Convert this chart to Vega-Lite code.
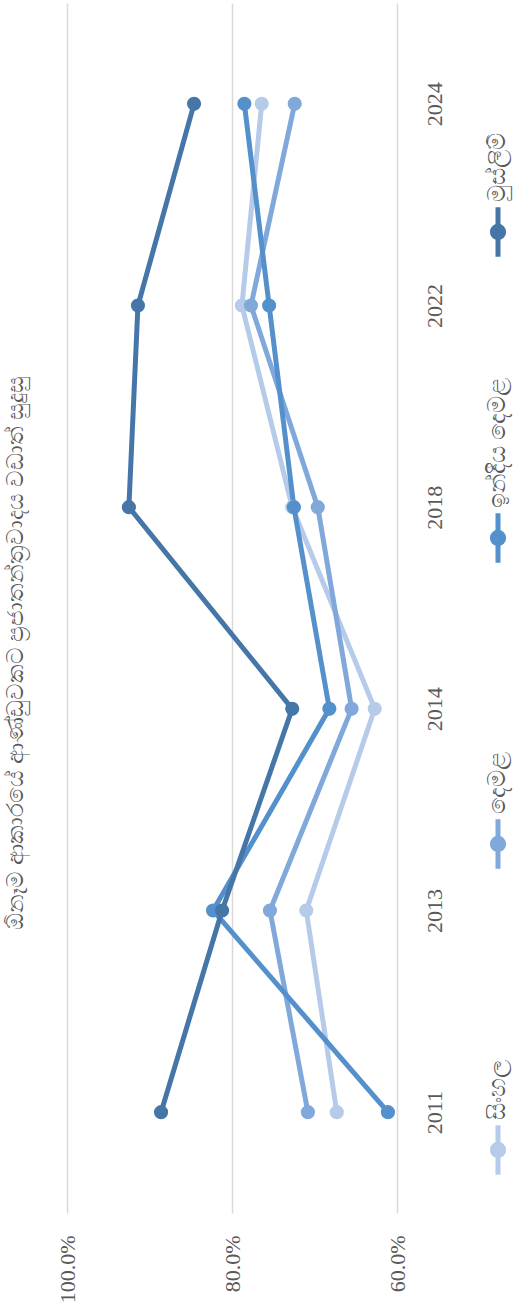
{
  "$schema": "https://vega.github.io/schema/vega-lite/v6.json",
  "autosize": {"type": "pad"},
  "padding": {"left": 4, "top": 3, "right": 0, "bottom": 0},
  "background": "white",
  "config": {"view": {"stroke": null}, "font": "Times New Roman, Liberation Serif, DejaVu Serif, serif"},
  "title": {
    "text": "ඕනෑම ආකාරයේ ආණ්ඩුවකට ප්‍රජාතන්ත්‍රවාදය වඩාත් සුදුසු",
    "orient": "left",
    "anchor": "middle",
    "offset": 28,
    "font": "Times New Roman, Liberation Serif, serif",
    "fontSize": 23,
    "fontWeight": "normal",
    "color": "#595959"
  },
  "spacing": 36,
  "hconcat": [
    {
      "width": 330,
      "height": 1210,
      "data": {
        "values": [
          {"year": "2011", "group": "සිංහල", "value": 0.673},
          {"year": "2013", "group": "සිංහල", "value": 0.710},
          {"year": "2014", "group": "සිංහල", "value": 0.627},
          {"year": "2018", "group": "සිංහල", "value": 0.727},
          {"year": "2022", "group": "සිංහල", "value": 0.788},
          {"year": "2024", "group": "සිංහල", "value": 0.764},
          {"year": "2011", "group": "දෙමළ", "value": 0.708},
          {"year": "2013", "group": "දෙමළ", "value": 0.754},
          {"year": "2014", "group": "දෙමළ", "value": 0.655},
          {"year": "2018", "group": "දෙමළ", "value": 0.696},
          {"year": "2022", "group": "දෙමළ", "value": 0.777},
          {"year": "2024", "group": "දෙමළ", "value": 0.724},
          {"year": "2011", "group": "ඉන්දීය දෙමළ", "value": 0.611},
          {"year": "2013", "group": "ඉන්දීය දෙමළ", "value": 0.823},
          {"year": "2014", "group": "ඉන්දීය දෙමළ", "value": 0.682},
          {"year": "2018", "group": "ඉන්දීය දෙමළ", "value": 0.725},
          {"year": "2022", "group": "ඉන්දීය දෙමළ", "value": 0.755},
          {"year": "2024", "group": "ඉන්දීය දෙමළ", "value": 0.785},
          {"year": "2011", "group": "මුස්ලිම්", "value": 0.886},
          {"year": "2013", "group": "මුස්ලිම්", "value": 0.812},
          {"year": "2014", "group": "මුස්ලිම්", "value": 0.727},
          {"year": "2018", "group": "මුස්ලිම්", "value": 0.925},
          {"year": "2022", "group": "මුස්ලිම්", "value": 0.914},
          {"year": "2024", "group": "මුස්ලිම්", "value": 0.846}
        ]
      },
      "encoding": {
        "y": {
          "field": "year",
          "type": "ordinal",
          "sort": "descending",
          "scale": {"type": "point", "padding": 0.5},
          "axis": {
            "orient": "right",
            "title": null,
            "labelAngle": -90,
            "labelAlign": "center",
            "labelBaseline": "top",
            "labelPadding": 27,
            "ticks": false,
            "domain": false,
            "grid": false,
            "labelFont": "Times New Roman, Liberation Serif, serif",
            "labelFontSize": 22,
            "labelColor": "#595959"
          }
        },
        "x": {
          "field": "value",
          "type": "quantitative",
          "scale": {"domain": [0.6, 1.0], "reverse": true, "nice": false, "zero": false},
          "axis": {
            "orient": "bottom",
            "title": null,
            "values": [0.6, 0.8, 1.0],
            "format": ".1%",
            "labelAngle": -90,
            "labelAlign": "right",
            "labelBaseline": "middle",
            "labelPadding": 22,
            "ticks": false,
            "domain": false,
            "grid": true,
            "gridColor": "#d9d9d9",
            "gridWidth": 1.5,
            "labelFont": "Times New Roman, Liberation Serif, serif",
            "labelFontSize": 22,
            "labelColor": "#595959"
          }
        },
        "color": {
          "field": "group",
          "type": "nominal",
          "scale": {
            "domain": ["මුස්ලිම්", "ඉන්දීය දෙමළ", "දෙමළ", "සිංහල"],
            "range": ["#4676a8", "#5490cb", "#80a8da", "#b6cbe9"]
          },
          "legend": null
        }
      },
      "layer": [
        {
          "mark": {"type": "line", "strokeWidth": 5},
          "encoding": {"order": {"field": "year"}}
        },
        {
          "mark": {"type": "circle", "size": 200, "opacity": 1}
        }
      ]
    },
    {
      "width": 20,
      "height": 1210,
      "data": {
        "values": [
          {"group": "මුස්ලිම්"},
          {"group": "ඉන්දීය දෙමළ"},
          {"group": "දෙමළ"},
          {"group": "සිංහල"}
        ]
      },
      "encoding": {
        "y": {
          "field": "group",
          "type": "nominal",
          "sort": null,
          "scale": {
            "type": "point",
            "domain": ["මුස්ලිම්", "ඉන්දීය දෙමළ", "දෙමළ", "සිංහල"],
            "padding": 0.477,
            "align": 0.784
          },
          "axis": null
        }
      },
      "layer": [
        {
          "mark": {
            "type": "point",
            "shape": "M0,-3.3L0,3.3M-0.75,0A0.75,0.75 0 1,0 0.75,0A0.75,0.75 0 1,0 -0.75,0Z",
            "size": 225,
            "strokeWidth": 5,
            "filled": true,
            "opacity": 1
          },
          "encoding": {
            "color": {
              "field": "group",
              "type": "nominal",
              "scale": {
                "domain": ["මුස්ලිම්", "ඉන්දීය දෙමළ", "දෙමළ", "සිංහල"],
                "range": ["#4676a8", "#5490cb", "#80a8da", "#b6cbe9"]
              },
              "legend": null
            },
            "stroke": {
              "field": "group",
              "type": "nominal",
              "scale": {
                "domain": ["මුස්ලිම්", "ඉන්දීය දෙමළ", "දෙමළ", "සිංහල"],
                "range": ["#4676a8", "#5490cb", "#80a8da", "#b6cbe9"]
              },
              "legend": null
            }
          }
        },
        {
          "mark": {
            "type": "text",
            "angle": -90,
            "align": "left",
            "baseline": "middle",
            "dx": 30,
            "font": "Times New Roman, Liberation Serif, serif",
            "fontSize": 24,
            "color": "#595959"
          },
          "encoding": {"text": {"field": "group"}}
        }
      ]
    }
  ]
}
